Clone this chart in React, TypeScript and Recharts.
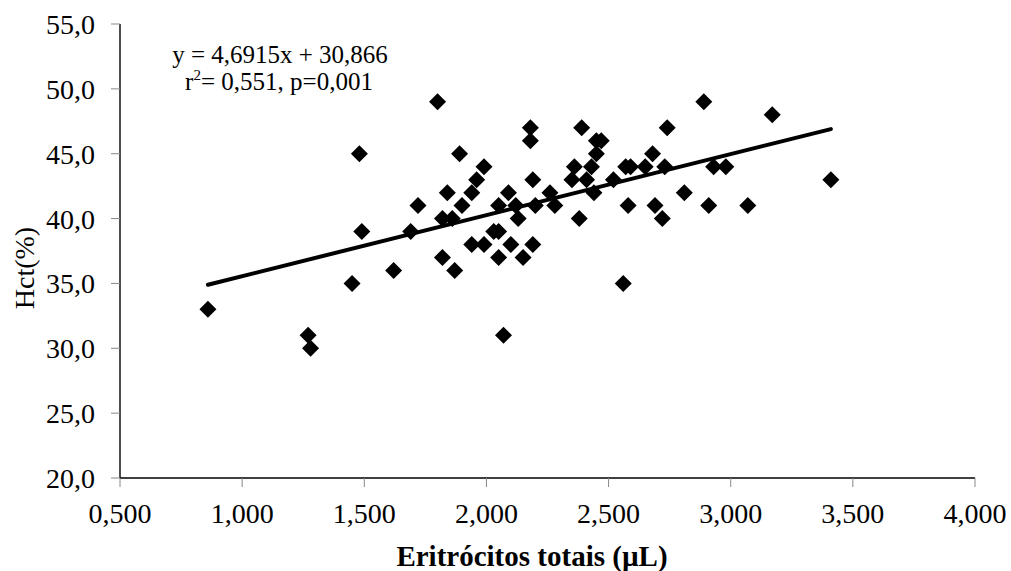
import React from 'react';
import { ScatterChart, Scatter, XAxis, YAxis } from 'recharts';

// Eritrócitos totais (x) and Hct (%) (y)
const eritrocitos = [
  0.86, 1.27, 1.28, 1.45, 1.48, 1.49, 1.62, 1.69, 1.72, 1.80,
  1.82, 1.82, 1.84, 1.86, 1.87, 1.89, 1.90, 1.94, 1.94, 1.96,
  1.99, 1.99, 2.03, 2.05, 2.05, 2.05, 2.07, 2.09, 2.10, 2.12,
  2.13, 2.15, 2.18, 2.18, 2.19, 2.19, 2.20, 2.26, 2.28, 2.35,
  2.36, 2.38, 2.39, 2.41, 2.43, 2.44, 2.45, 2.45, 2.47, 2.52,
  2.56, 2.57, 2.58, 2.59, 2.65, 2.68, 2.69, 2.72, 2.73, 2.74,
  2.81, 2.89, 2.91, 2.93, 2.98, 3.07, 3.17, 3.41,
];
const hct = [
  33, 31, 30, 35, 45, 39, 36, 39, 41, 49,
  40, 37, 42, 40, 36, 45, 41, 42, 38, 43,
  44, 38, 39, 39, 41, 37, 31, 42, 38, 41,
  40, 37, 47, 46, 43, 38, 41, 42, 41, 43,
  44, 40, 47, 43, 44, 42, 46, 45, 46, 43,
  35, 44, 41, 44, 44, 45, 41, 40, 44, 47,
  42, 49, 41, 44, 44, 41, 48, 43,
];

// Trend line end points
const trendX = [0.86, 3.41];
const trendY = [34.9, 46.9];

const xTicks = [0.5, 1, 1.5, 2, 2.5, 3, 3.5, 4];
const yTicks = [20, 25, 30, 35, 40, 45, 50, 55];

const points = eritrocitos.map((x, i) => ({ x, y: hct[i] }));
const trend = trendX.map((x, i) => ({ x, y: trendY[i] }));

const FONT = '"Liberation Serif", "Times New Roman", serif';

const Diamond = (props: any) => {
  const { cx, cy } = props;
  if (cx == null || cy == null) return <g />;
  const r = 8.5;
  return (
    <polygon
      points={`${cx},${cy - r} ${cx + r},${cy} ${cx},${cy + r} ${cx - r},${cy}`}
      fill="#000"
    />
  );
};

const NoShape = () => <g />;

export default function App() {
  return (
    <div style={{ position: 'absolute', left: 0, top: 0, width: 1011, height: 571, background: '#fff' }}>
      <ScatterChart
        width={1011}
        height={571}
        margin={{ top: 24, right: 36, bottom: 0, left: 0 }}
      >
        <XAxis
          type="number"
          dataKey="x"
          domain={[0.5, 4]}
          ticks={xTicks}
          interval={0}
          allowDataOverflow
          height={93}
          tickSize={9}
          tickMargin={16}
          axisLine={{ stroke: '#000', strokeWidth: 1.4 }}
          tickLine={{ stroke: '#888', strokeWidth: 1 }}
          tick={{ fill: '#000', fontSize: 28, fontFamily: FONT }}
          tickFormatter={(v: number) => v.toFixed(3).replace('.', ',')}
        />
        <YAxis
          type="number"
          dataKey="y"
          domain={[20, 55]}
          ticks={yTicks}
          interval={0}
          allowDataOverflow
          width={120}
          tickSize={9}
          tickMargin={16}
          axisLine={{ stroke: '#000', strokeWidth: 1.4 }}
          tickLine={{ stroke: '#888', strokeWidth: 1 }}
          tick={{ fill: '#000', fontSize: 28, fontFamily: FONT }}
          tickFormatter={(v: number) => v.toFixed(1).replace('.', ',')}
        />
        <Scatter data={points} shape={Diamond} isAnimationActive={false} />
        <Scatter
          data={trend}
          line={{ stroke: '#000', strokeWidth: 4, strokeLinecap: 'round' }}
          lineType="joint"
          shape={NoShape}
          isAnimationActive={false}
        />
      </ScatterChart>
      <svg
        width={1011}
        height={571}
        style={{ position: 'absolute', left: 0, top: 0, pointerEvents: 'none' }}
      >
        <text x={280} y={63} textAnchor="middle" fontFamily={FONT} fontSize={25} fill="#000">
          y = 4,6915x + 30,866
        </text>
        <text x={279} y={90} textAnchor="middle" fontFamily={FONT} fontSize={25} fill="#000">
          r<tspan fontSize={15} dy={-10}>2</tspan>
          <tspan dy={10}>= 0,551, p=0,001</tspan>
        </text>
        <text
          x={0}
          y={0}
          transform="translate(34, 268) rotate(-90)"
          textAnchor="middle"
          fontFamily={FONT}
          fontSize={28}
          fill="#000"
        >
          Hct(%)
        </text>
        <text x={532} y={566} textAnchor="middle" fontFamily={FONT} fontSize={29} fontWeight="bold" fill="#000">
          Eritrócitos totais (µL)
        </text>
      </svg>
    </div>
  );
}
